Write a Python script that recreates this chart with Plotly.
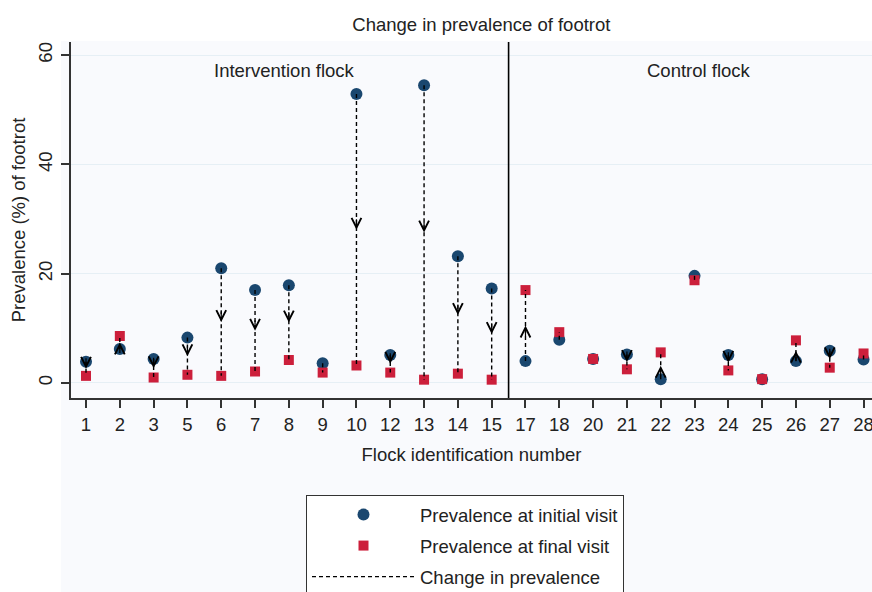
import plotly.graph_objects as go

# ---- data ----
flocks = ["1", "2", "3", "5", "6", "7", "8", "9", "10", "12", "13", "14", "15",
          "17", "18", "20", "21", "22", "23", "24", "25", "26", "27", "28"]
initial = [3.9, 6.2, 4.4, 8.3, 21.0, 17.0, 17.9, 3.6, 52.9, 5.1, 54.5, 23.2, 17.3,
           4.0, 7.9, 4.4, 5.2, 0.7, 19.6, 5.1, 0.7, 4.0, 5.9, 4.3]
final = [1.3, 8.6, 1.0, 1.5, 1.3, 2.1, 4.2, 1.9, 3.2, 1.9, 0.6, 1.7, 0.6,
         17.0, 9.3, 4.4, 2.5, 5.6, 18.8, 2.3, 0.7, 7.8, 2.8, 5.4]
n_intervention = 13
group_labels = ["Intervention flock", "Control flock"]
y_ticks = [0, 20, 40, 60]

FONT = "Liberation Sans, Arial, sans-serif"
FS = 18.5
BLUE = "#1a476f"
RED = "#cc1f3b"
BG = "#f9fafd"
TXT = "#222222"

xs = list(range(len(flocks)))

fig = go.Figure()

fig.add_trace(go.Scatter(
    x=xs, y=initial, mode="markers", name="Prevalence at initial visit",
    marker=dict(symbol="circle", size=12, color=BLUE), legendrank=1,
    legendgroup="a"))
fig.add_trace(go.Scatter(
    x=xs, y=final, mode="markers", name="Prevalence at final visit",
    marker=dict(symbol="square", size=10, color=RED), legendrank=2,
    legendgroup="b"))

lx, ly = [], []
for x, a, b in zip(xs, initial, final):
    lx += [x, x, None]
    ly += [a, b, None]
fig.add_trace(go.Scatter(
    x=lx, y=ly, mode="lines", name="Change in prevalence",
    line=dict(color="black", width=1.4, dash="4px,3px"), legendrank=3,
    legendgroup="c", connectgaps=False))

# chevron arrowheads at midpoints
for x, a, b in zip(xs, initial, final):
    if abs(a - b) < 2:
        continue
    mid = (a + b) / 2
    fig.add_annotation(x=x, y=mid, xref="x", yref="y", text="", showarrow=True,
                       arrowhead=5, arrowsize=1.6, arrowwidth=1.2,
                       arrowcolor="black", ax=0, ay=-12 if b < a else 12)

# divider between intervention and control flocks
fig.add_shape(type="line", xref="x", yref="paper", x0=n_intervention - 0.5,
              x1=n_intervention - 0.5, y0=0, y1=1,
              line=dict(color="black", width=1.6))

# light graph region background
fig.add_shape(type="rect", xref="paper", yref="paper", x0=-0.0125, x1=1.02,
              y0=-0.6, y1=1.003, fillcolor=BG, line=dict(width=0), layer="below")

fig.add_annotation(text=group_labels[0], xref="paper", yref="paper", x=0.266, y=0.921,
                   xanchor="center", yanchor="middle",
                   showarrow=False, font=dict(size=FS, color=TXT, family=FONT))
fig.add_annotation(text=group_labels[1], xref="paper", yref="paper", x=0.784, y=0.921,
                   xanchor="center", yanchor="middle",
                   showarrow=False, font=dict(size=FS, color=TXT, family=FONT))

fig.update_layout(
    width=872, height=592, autosize=False,
    margin=dict(l=71, r=0, t=42, b=194, autoexpand=False),
    paper_bgcolor="white", plot_bgcolor=BG,
    font=dict(family=FONT, size=FS, color=TXT),
    title=dict(text="Change in prevalence of footrot", x=0.552, xanchor="center",
               xref="container", yref="container",
               y=1 - 25 / 592, yanchor="middle", font=dict(size=FS, color=TXT)),
    showlegend=True,
    legend=dict(x=(306 - 71) / 801, y=(398 - 495) / 356,
                xanchor="left", yanchor="top", bgcolor="white",
                bordercolor="#333333", borderwidth=1, itemwidth=103,
                entrywidth=215, entrywidthmode="pixels",
                traceorder="grouped", tracegroupgap=4,
                font=dict(size=FS, color=TXT, family=FONT)),
)

fig.update_xaxes(
    range=[-0.444, 23.25], tickvals=xs, ticktext=flocks, tickangle=0,
    automargin=False, ticklabeloverflow="allow", ticklabelstandoff=1,
    showline=True, linecolor="#333333", linewidth=1.5,
    ticks="outside", ticklen=8, tickwidth=1.5, tickcolor="#333333",
    showgrid=False, zeroline=False,
    tickfont=dict(size=FS, color=TXT),
    title=dict(text="Flock identification number", font=dict(size=FS, color=TXT), standoff=14),
)
fig.update_yaxes(
    range=[-2.75, 62.4], tickvals=y_ticks,
    automargin=False, ticklabeloverflow="allow", ticklabelstandoff=2,
    showline=True, linecolor="#333333", linewidth=1.5,
    ticks="outside", ticklen=8, tickwidth=1.5, tickcolor="#333333",
    showgrid=True, gridcolor="#e6eff5", gridwidth=1, zeroline=False,
    tickangle=-90, tickfont=dict(size=FS, color=TXT),
    title=dict(text="Prevalence (%) of footrot", font=dict(size=FS, color=TXT), standoff=4),
)

fig.write_html("out.html", config={"displayModeBar": False},
               post_script="document.body.style.margin='0';document.body.style.overflow='hidden';")
